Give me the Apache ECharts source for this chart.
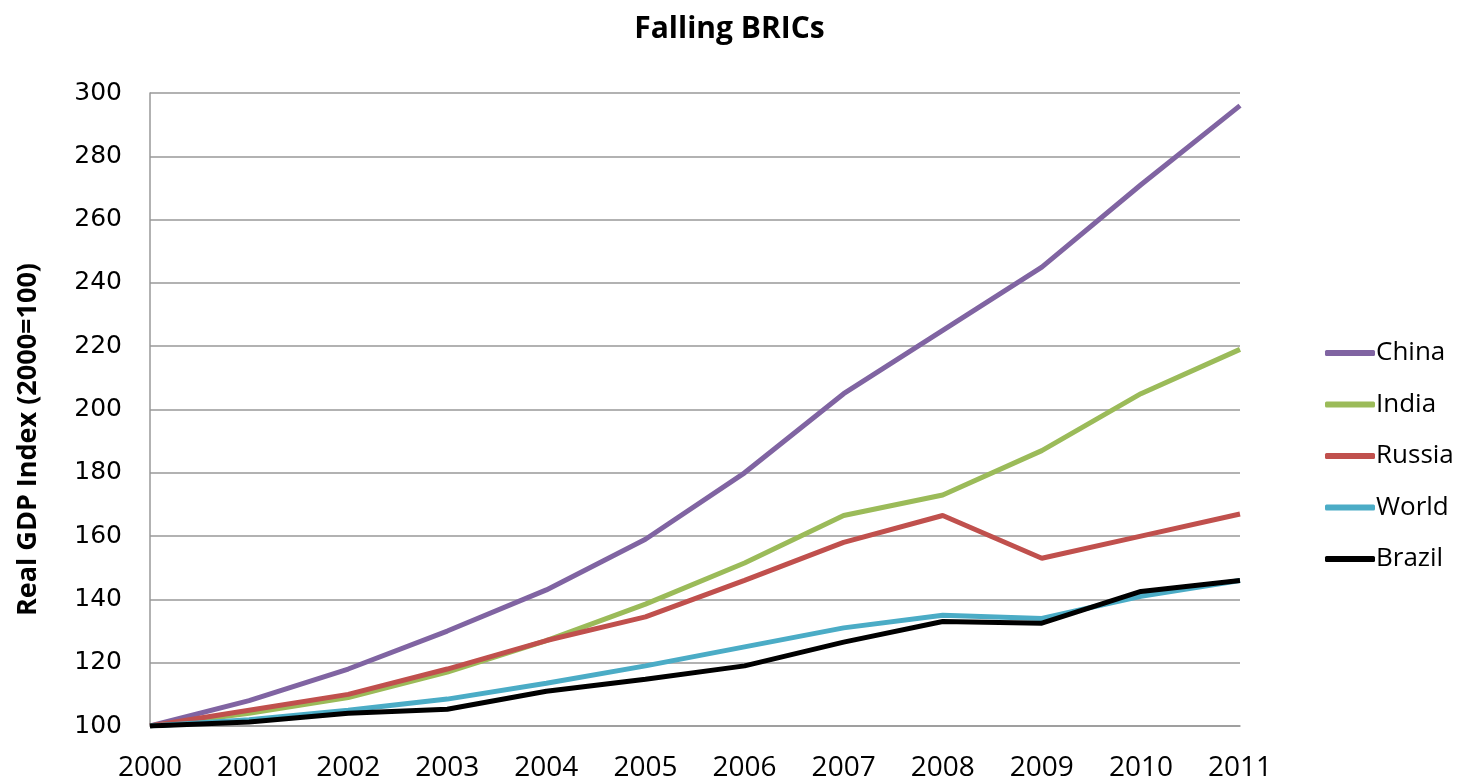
<!DOCTYPE html>
<html><head><meta charset="utf-8">
<script src="https://cdn.jsdelivr.net/npm/echarts@6/dist/echarts.min.js"></script>
<style>html,body{margin:0;padding:0;background:#fff}#c{width:1459px;height:782px}</style>
</head><body><div id="c"></div>
<script>
const years = ['2000','2001','2002','2003','2004','2005','2006','2007','2008','2009','2010','2011'];
const china  = [100, 108, 118, 130, 143, 159, 180, 205, 225, 245, 271, 296];
const india  = [100, 104, 109, 117, 127, 138.5, 151.5, 166.5, 173, 187, 205, 219];
const russia = [100, 105, 110, 118, 127, 134.5, 146, 158, 166.5, 153, 160, 167];
const world  = [100, 102, 105, 108.5, 113.5, 119, 125, 131, 135, 134, 141, 146];
const brazil = [100, 101.3, 104, 105.3, 111, 114.8, 119, 126.5, 133, 132.5, 142.5, 146];

const chart = echarts.init(document.getElementById('c'));
function s(name, data, color){
  return {name, type:'line', data, symbol:'none', smooth:false,
    lineStyle:{width:5, color}, itemStyle:{color}};
}
chart.setOption({
  animation:false,
  title:{text:'Falling BRICs', left:'center', top:9,
    textStyle:{fontFamily:'Open Sans', fontSize:30, fontWeight:'bold', color:'#000'}},
  grid:{left:150, right:219, top:93, bottom:54, containLabel:false},
  legend:{orient:'vertical', left:1320, top:335, icon:'roundRect', itemWidth:50, itemHeight:6,
    itemGap:25.5, textStyle:{fontFamily:'Open Sans', fontSize:26, color:'#000', padding:[0,0,0,-4]},
    data:['China','India','Russia','World','Brazil']},
  xAxis:{type:'category', data:years, boundaryGap:false,
    axisLine:{lineStyle:{color:'#999', width:1.5}}, axisTick:{show:false},
    axisLabel:{fontFamily:'Open Sans', fontSize:28, color:'#000', margin:28}},
  yAxis:{type:'value', min:100, max:300, interval:20,
    name:'Real GDP Index (2000=100)', nameLocation:'middle', nameGap:108, nameRotate:90,
    nameTextStyle:{fontFamily:'Open Sans', fontSize:27, fontWeight:'bold', color:'#000', padding:[0,60,0,0]},
    axisLine:{show:true, lineStyle:{color:'#999', width:1.5}}, axisTick:{show:false},
    splitLine:{lineStyle:{color:'#999', width:1.5}},
    axisLabel:{fontFamily:'DejaVu Sans', fontSize:25, color:'#000', margin:28}},
  series:[
    s('China', china, '#8064A2'),
    s('India', india, '#9BBB59'),
    s('Russia', russia, '#C0504D'),
    s('World', world, '#4BACC6'),
    s('Brazil', brazil, '#000000')
  ]
});
</script></body></html>
